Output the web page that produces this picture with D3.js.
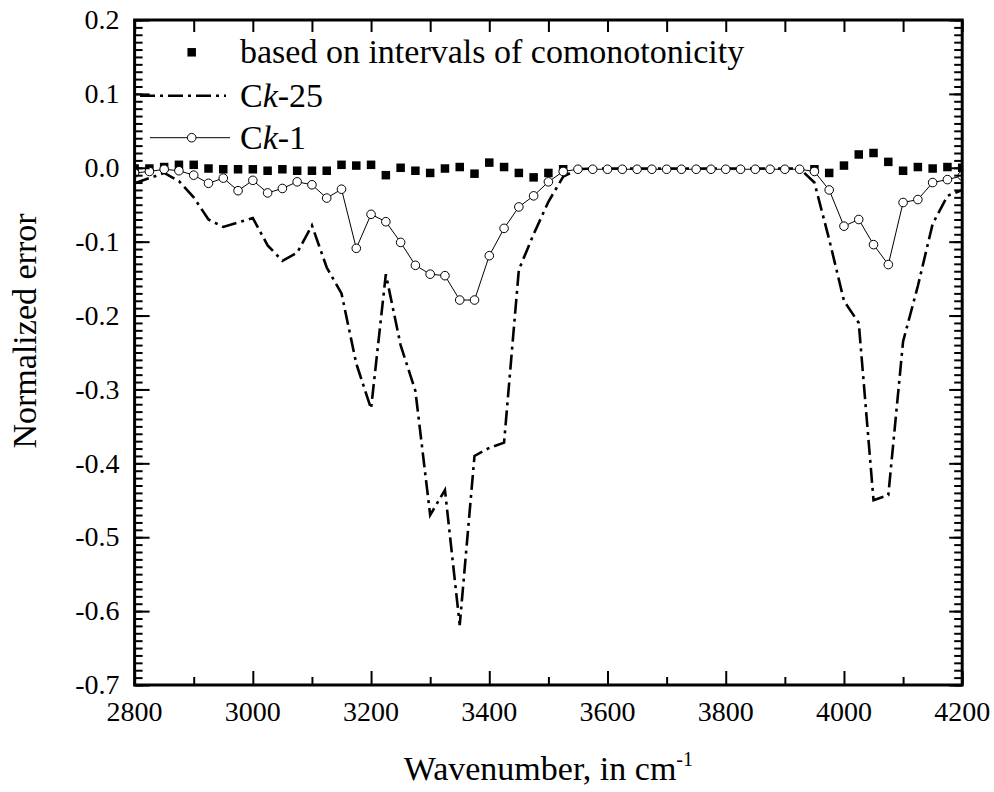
<!DOCTYPE html>
<html>
<head>
<meta charset="utf-8">
<script src="https://cdn.jsdelivr.net/npm/d3@7"></script>
<style>
  html, body { margin: 0; padding: 0; background: #fff; }
  svg text { font-family: "Liberation Serif", "Times New Roman", Times, Tinos, "Noto Serif", "DejaVu Serif", serif; }
</style>
</head>
<body>
<svg id="chart" width="994" height="792"></svg>
<script>
// Wavenumber grid (cm^-1)
const wavenumber = [
  2800, 2825, 2850, 2875, 2900, 2925, 2950, 2975, 3000, 3025,
  3050, 3075, 3100, 3125, 3150, 3175, 3200, 3225, 3250, 3275,
  3300, 3325, 3350, 3375, 3400, 3425, 3450, 3475, 3500, 3525,
  3550, 3575, 3600, 3625, 3650, 3675, 3700, 3725, 3750, 3775,
  3800, 3825, 3850, 3875, 3900, 3925, 3950, 3975, 4000, 4025,
  4050, 4075, 4100, 4125, 4150, 4175, 4200
];

// Normalized error based on intervals of comonotonicity (null = not computed)
const comonotonic = [
  -0.001, -0.001, 0.001, 0.004, 0.004, -0.001, -0.002, -0.002, -0.002, -0.004,
  -0.002, -0.004, -0.004, -0.004, 0.004, 0.003, 0.004, -0.010, 0.000, -0.004,
  -0.007, -0.001, 0.001, -0.008, 0.007, 0.001, -0.007, -0.013, -0.007, -0.002,
  null, null, null, null, null, null, null, null, null, null,
  null, null, null, null, null, null, -0.002, -0.007, 0.003, 0.018,
  0.020, 0.008, -0.004, 0.001, -0.001, 0.001, 0.000
];

// Normalized error, Ck-25
const ck25 = [
  -0.021, -0.014, -0.007, -0.018, -0.040, -0.070, -0.080, -0.074, -0.068, -0.105,
  -0.126, -0.115, -0.078, -0.135, -0.170, -0.265, -0.326, -0.144, -0.240, -0.302,
  -0.470, -0.436, -0.619, -0.390, -0.379, -0.372, -0.138, -0.090, -0.046, -0.012,
  -0.002, -0.001, -0.001, -0.001, -0.001, -0.001, -0.001, -0.001, -0.001, -0.001,
  -0.001, -0.001, -0.001, -0.001, -0.001, -0.001, -0.020, -0.097, -0.180, -0.210,
  -0.450, -0.443, -0.235, -0.160, -0.076, -0.038, -0.030
];

// Normalized error, Ck-1
const ck1 = [
  -0.007, -0.005, -0.002, -0.004, -0.010, -0.021, -0.014, -0.031, -0.017, -0.034,
  -0.028, -0.019, -0.023, -0.041, -0.029, -0.109, -0.063, -0.073, -0.101, -0.132,
  -0.144, -0.146, -0.179, -0.179, -0.119, -0.082, -0.053, -0.038, -0.019, -0.005,
  -0.002, -0.002, -0.002, -0.002, -0.002, -0.002, -0.002, -0.002, -0.002, -0.002,
  -0.002, -0.002, -0.002, -0.002, -0.002, -0.002, -0.005, -0.030, -0.079, -0.070,
  -0.104, -0.131, -0.047, -0.043, -0.020, -0.016, -0.011
];

const xTicks = [2800, 3000, 3200, 3400, 3600, 3800, 4000, 4200];
const yTicks = [0.2, 0.1, 0.0, -0.1, -0.2, -0.3, -0.4, -0.5, -0.6, -0.7];

const svg = d3.select("#chart");
const plotLeft = 134.6, plotRight = 962.2, plotTop = 20, plotBottom = 685;

const x = d3.scaleLinear().domain([2800, 4200]).range([plotLeft, plotRight]);
const y = d3.scaleLinear().domain([-0.7, 0.2]).range([plotBottom, plotTop]);

const fmtY = v => d3.format(".1f")(v).replace("\u2212", "-");

// Clip marks to the plot frame
svg.append("defs").append("clipPath").attr("id", "plotClip")
  .append("rect").attr("x", plotLeft).attr("y", plotTop)
  .attr("width", plotRight - plotLeft).attr("height", plotBottom - plotTop);

const plot = svg.append("g").attr("clip-path", "url(#plotClip)");

// Squares: intervals of comonotonicity
const sq = 8.5;
plot.append("g").selectAll("rect")
  .data(wavenumber.map((w, i) => ({ w, v: comonotonic[i] })).filter(d => d.v !== null))
  .join("rect")
  .attr("x", d => x(d.w) - sq / 2)
  .attr("y", d => y(d.v) - sq / 2)
  .attr("width", sq).attr("height", sq)
  .attr("fill", "#000");

// Ck-25 dash-dot line
const line = d3.line().x(d => x(d.w)).y(d => y(d.v));
plot.append("path")
  .datum(wavenumber.map((w, i) => ({ w, v: ck25[i] })))
  .attr("d", line)
  .attr("fill", "none").attr("stroke", "#000")
  .attr("stroke-width", 2.6)
  .attr("stroke-dasharray", "15,5,3,5");

// Ck-1 thin line with open circles
const ck1Data = wavenumber.map((w, i) => ({ w, v: ck1[i] }));
plot.append("path")
  .datum(ck1Data)
  .attr("d", line)
  .attr("fill", "none").attr("stroke", "#000").attr("stroke-width", 1);
plot.append("g").selectAll("circle")
  .data(ck1Data).join("circle")
  .attr("cx", d => x(d.w)).attr("cy", d => y(d.v)).attr("r", 4.3)
  .attr("fill", "#fff").attr("stroke", "#000").attr("stroke-width", 1);

// Bottom: major every 200, minor every 100
const bottomAxis = d3.axisTop(x).tickValues(xTicks).tickSize(14).tickFormat("");
const bottomMinor = d3.axisTop(x).tickValues(d3.range(2900, 4200, 200)).tickSize(8).tickFormat("");
// Top: ticks every 100
const topAxis = d3.axisBottom(x).tickValues(d3.range(2800, 4201, 100)).tickSize(12).tickFormat("");
// Left and right: major every 0.1, minor every 0.01
const yMinorVals = d3.range(-70, 21).map(k => k / 100);
const leftMajor = d3.axisRight(y).tickValues(yTicks).tickSize(15).tickFormat("");
const leftMinor = d3.axisRight(y).tickValues(yMinorVals).tickSize(8).tickFormat("");
const rightMajor = d3.axisLeft(y).tickValues(yTicks).tickSize(13).tickFormat("");
const rightMinor = d3.axisLeft(y).tickValues(yMinorVals).tickSize(8).tickFormat("");

function drawAxis(gen, tx, ty) {
  const g = svg.append("g").attr("transform", `translate(${tx},${ty})`).call(gen);
  g.select(".domain").remove();
  g.selectAll(".tick line").attr("stroke", "#000").attr("stroke-width", 2);
  return g;
}
drawAxis(bottomAxis, 0, plotBottom);
drawAxis(bottomMinor, 0, plotBottom);
drawAxis(topAxis, 0, plotTop);
drawAxis(leftMajor, plotLeft, 0);
drawAxis(leftMinor, plotLeft, 0);
drawAxis(rightMajor, plotRight, 0);
drawAxis(rightMinor, plotRight, 0);

// Frame
svg.append("rect")
  .attr("x", plotLeft).attr("y", plotTop)
  .attr("width", plotRight - plotLeft).attr("height", plotBottom - plotTop)
  .attr("fill", "none").attr("stroke", "#000").attr("stroke-width", 3);

// Tick labels
svg.append("g").selectAll("text").data(xTicks).join("text")
  .attr("x", d => x(d)).attr("y", plotBottom + 36)
  .attr("text-anchor", "middle").attr("font-size", 28)
  .text(d => d);

svg.append("g").selectAll("text").data(yTicks).join("text")
  .attr("x", plotLeft - 15).attr("y", d => y(d)).attr("dy", "0.33em")
  .attr("text-anchor", "end").attr("font-size", 28)
  .text(fmtY);

// Axis titles
const xt = svg.append("text")
  .attr("x", (plotLeft + plotRight) / 2).attr("y", 780)
  .attr("text-anchor", "middle").attr("font-size", 34);
xt.append("tspan").text("Wavenumber, in cm");
xt.append("tspan").attr("dy", -14).attr("font-size", 20).text("-1");

svg.append("text")
  .attr("transform", "translate(36,331) rotate(-90)")
  .attr("text-anchor", "middle").attr("font-size", 34)
  .text("Normalized error");

// Legend
const lg = svg.append("g");
lg.append("rect").attr("x", 191.7 - sq / 2).attr("y", 52.3 - sq / 2)
  .attr("width", sq).attr("height", sq).attr("fill", "#000");
lg.append("text").attr("x", 240).attr("y", 63).attr("font-size", 34)
  .text("based on intervals of comonotonicity");

lg.append("line").attr("x1", 140).attr("x2", 226).attr("y1", 95.7).attr("y2", 95.7)
  .attr("stroke", "#000").attr("stroke-width", 2.6).attr("stroke-dasharray", "15,5,3,5");
const t25 = lg.append("text").attr("x", 240).attr("y", 107).attr("font-size", 34);
t25.append("tspan").text("C");
t25.append("tspan").attr("font-style", "italic").text("k");
t25.append("tspan").text("-25");

lg.append("line").attr("x1", 150).attr("x2", 230).attr("y1", 137.7).attr("y2", 137.7)
  .attr("stroke", "#000").attr("stroke-width", 1);
lg.append("circle").attr("cx", 191.7).attr("cy", 137.7).attr("r", 4.3)
  .attr("fill", "#fff").attr("stroke", "#000").attr("stroke-width", 1);
const t1 = lg.append("text").attr("x", 240).attr("y", 149).attr("font-size", 34);
t1.append("tspan").text("C");
t1.append("tspan").attr("font-style", "italic").text("k");
t1.append("tspan").text("-1");
</script>
</body>
</html>
